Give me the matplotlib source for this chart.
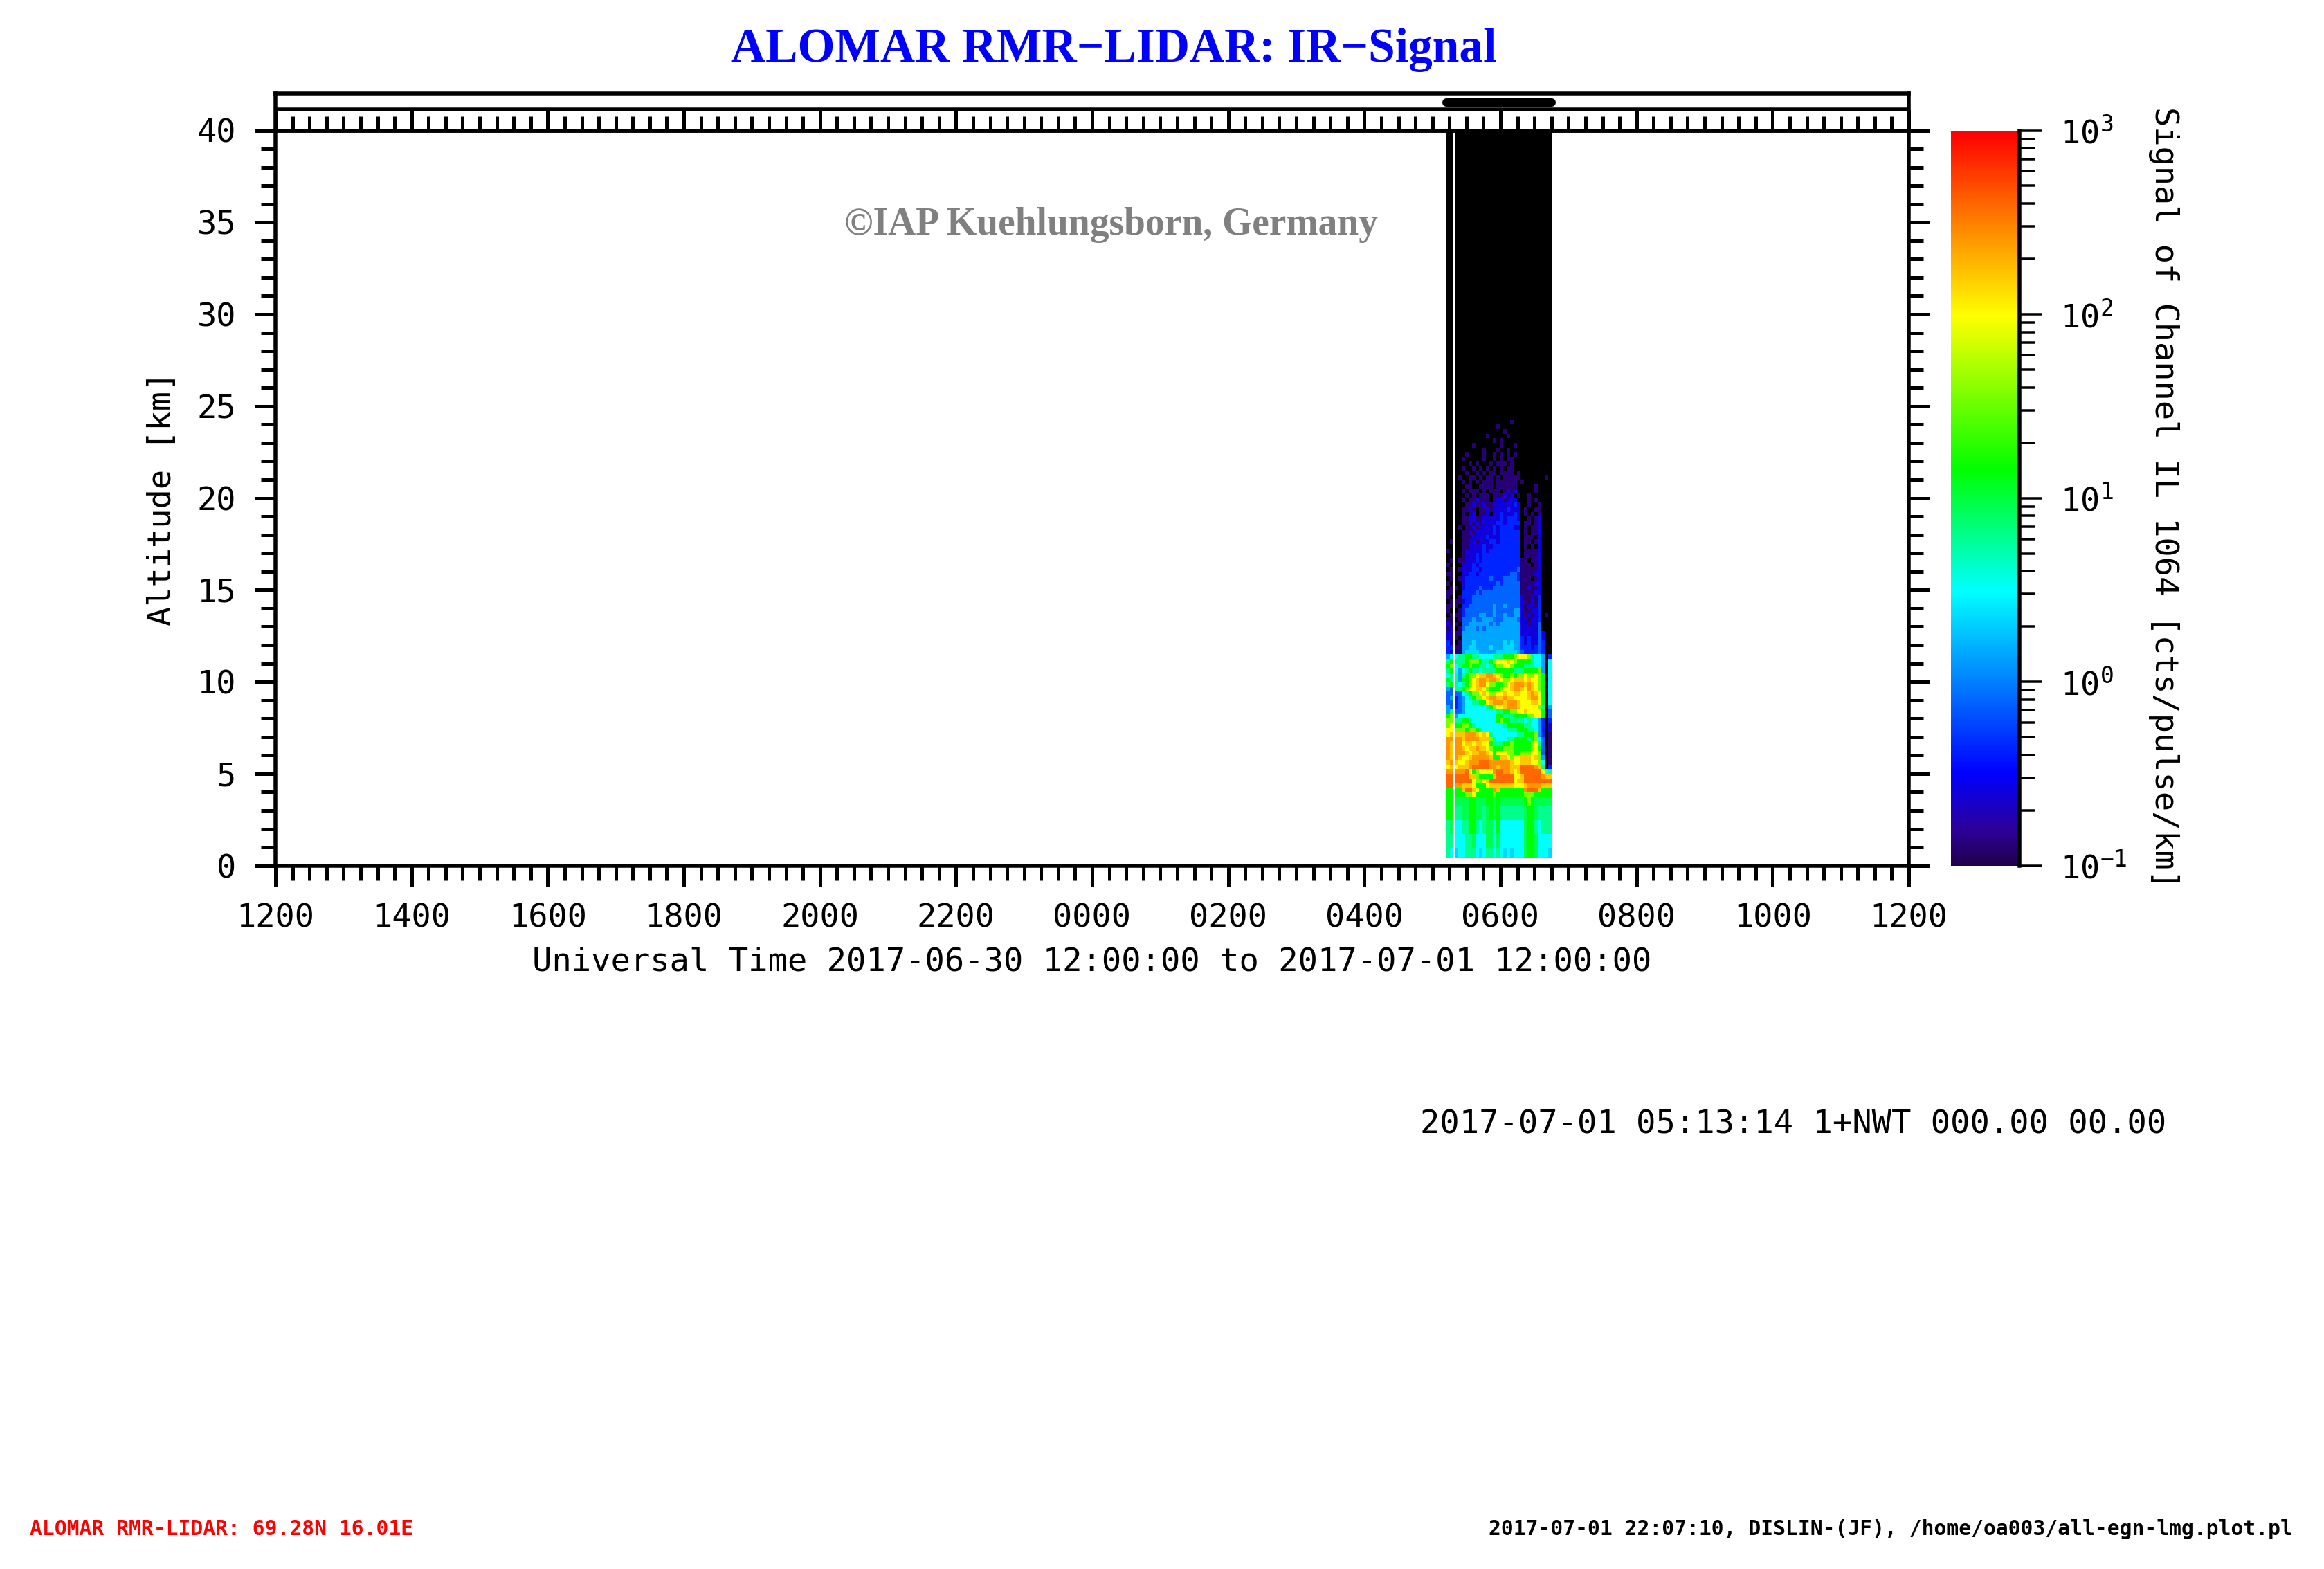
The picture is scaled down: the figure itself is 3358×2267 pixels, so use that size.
import numpy as np
import matplotlib
matplotlib.use("Agg")
import matplotlib.pyplot as plt
from matplotlib.colors import LinearSegmentedColormap, LogNorm
from matplotlib.ticker import FixedLocator, LogLocator, FuncFormatter, MultipleLocator

W, H = 3358, 2267
MONO = "DejaVu Sans Mono"

# hours after 2017-06-30 12:00
hour_ticks = list(range(0, 25, 2))
hour_labels = ["1200", "1400", "1600", "1800", "2000", "2200", "0000",
               "0200", "0400", "0600", "0800", "1000", "1200"]
scan_start = 17.207
scan_gap = [17.31, 17.33]
scan_end = 18.753

# one letter = one signal level, log10(cts/pulse/km)
level_codes = ".abcdepfgnhijklm"
level_log = [-2, -0.88, -0.6, -0.35, -0.1, 0.15, 0.35, 0.5, 0.8, 0.97, 1.16, 1.55, 2.0, 2.22, 2.42, 2.6]

# altitude [km] bands, top to bottom
alt_top = [40, 24.5]
alt_fine_top = 24.5
alt_fine_bottom = 3.75
alt_low = [3.75, 3.22, 2.47, 1.72, 0.97, 0.385]

# two columns before the gap + 28 after it; short rows are black on the right
rows_top = ["."]
rows_noise = [
    ".",
    "..................a",
    "..............a",
    "................a",
    "...........a.....a",
    ".............a.a",
    ".......a.......a...a",
    "..........a...a..a",
    ".....a....a..a.a.a.a",
    "....a.....a..a.a.aa",
    "......a.a...a.aaa.a",
    "....a..a.a.a.a.a.aa",
    ".....a..a.a.aa.aaaa.a",
    "...a..aa.a.aa.a.aaaaa.......a",
    "....a.a.a.aaa.aaaaaa.a",
    ".....aa..aaaa.aaaaaa.....a",
    "....a.aaa.a.aaa.abab.....a",
    ".....a.a.aaa.aaabab.a..a",
    "....a.aabaaa.abbabbb...a.a",
    ".....aabaabaabbbbbbcb..a..a",
    "....aaba.aababbbbcbbb.a..aa",
    "....a.ab.aab.bbcbbbcb.a.a.a",
    "....aabbaabbbbbcbcccb..a.ab",
    "....aabababbbbccbcccc.aa.ab",
    "...a.aababbbbcbccccbb.a.aab",
    "....aababbbbbcbcccccc.a.aab",
    "....aaabbbbcbbbcccccc.aaa.b",
    ".a..aabbabbbccbcccccc.aa.ab",
    "....aabbbbcbbcccccccc.a.a.b",
    "a...abbbbbcbccccccccc.aaaab",
    "....abbbcbccccccccccc.aaaab",
    ".a.aabbbcbcccccccccccaa.aab",
    "a...bbbcbccccccccccccaaa.ab",
    ".a.abbbccbccccccccccdaaaaab",
    "aa..bbccbcccccccccddcaaaabb",
    ".a.abcccccccdcccddddcaaa.ab",
    "a...bcccccccccdcdddddaaaabb",
    ".aa.bccccdcccddddddddaabaab",
    "aa..ccccdcdddddddddddaaaabb",
    "a..acccddddddddddddddbaabac",
    ".aaabccddddddddddddddbaabac",
    "aaa.ccdddddddeddeddddbabbac",
    "a..acddddddddedddddeebaabbc",
    ".aaacddddeeddeddeddeebababc.a",
    "aa.adddeddeeedddeeeedbbabbc",
    "baa.ddeeeeeededeeeeeebbabbd",
    "ab.adeeededeeeeeeeeeebbbbbd",
    "bbaaeeeeeeeeeeeeeeeeebbbbbdb",
    "bba.eeeeeeeeeeeeeeeeecbcbbdb",
    "cb.aeeepeeeeeeeepepeecbcbbdc",
    "ccaaeeppeeeepeeepppeecccbcdc",
    "cbaaeppppeeeeeppppppedccccdc",
]
rows_cloud = [
    "ef" + "fgghhggffffggghhhijjjigffe.c",
    "gh" + "ggghiiihgghijjjkjihhhhgffe.f",
    "hi" + "fghhihhggfghiijjihhhgggffe.f",
    "gh" + "fefghggfgggghhhhhggghhhhie.f",
    "fg" + "geghiijkkllkjihhihiijiijih.f",
    "hg" + "gehhijkllkllkjiijkkkjkjjih.f",
    "gh" + "gfghijklljiihhijklllklkjih.f",
    "ed" + "gghijjkkjihhhijjkllkjlkjih.f",
    "dd" + "ddfghiijkjiijjkjjkkjjklkjh.f",
    "de" + "cdefghiijkllkklkkjjjjklljh.f",
    "dd" + "cdeffgghhjklllklllkjjjkkjh.f",
    "ed" + "cdeffffffghijjklllkjjjjjig.e",
    "eg" + "ddefffffffffgghhiijjkjjjjh.d",
    "hi" + "efffffffffffhhggghhhhiijjh.d",
    "ii" + "gghhgfffffffhihhggggfgffec.c",
    "ij" + "hhiihgffffffffghhhhhggffec.b",
    "jj" + "iiihiihgfffffffggghhhggfec.b",
    "jk" + "kkklllkjkjgfffffffgghhhiec.a",
    "ll" + "llkllllkkkigfffgghhhhghifd.a",
    "lk" + "lljkkjkkjjhggghhihhhhhijgd.a",
    "lk" + "llkjkklkkjihhhiiihhhhhijhd.a",
    "lk" + "lllkjkkllkjhjjjiihhiiijjid.a",
    "lk" + "lkjjklllllkhhkkjijjkkkjkie.a",
    "kl" + "kjjklllmmmllllllkjjkkkjjif.a",
    "jk" + "jkkklmmmmmllklllkkkmmmmlkg.c",
    "ll" + "lllmjhijjjjlmmllkjkmmmmmmjfg",
    "mm" + "mmmmkkihhhhkmmmmmjjkmmmmmlkk",
    "mm" + "mmmmmjiijkmmmmmmmjkkmmmmmmmm",
    "mm" + "llkkkjhhhjkkkkkkkjjjkllllkkk",
    "hh" + "hhkmmkjhhhhlkhhhhhhhlmmmkhhh",
    "hh" + "hhhiijhhhhhihhhhhhhhiiihhhhh",
]
rows_low = [
    "hh" + "nnnnhhnnnhhnhnnnnnnnhihnnnnn",
    "hh" + "ggnnhhnngnhnhgggggggnhhngggg",
    "gn" + "ffgghhgfgnnfhfffffffnhhgfggg",
    "gg" + "fffggnfffnnfnfffffffnhhnffff",
    "gf" + "pffgggfpfggfgfpfpfffnhhnfffp",
]

# colour bar
cbar_ticks = [0.1, 1, 10, 100, 1000]
cbar_stops = [0.0, 0.05, 0.127, 0.375, 0.541, 0.75, 0.877, 1.0]
cbar_colors = ["#200048", "#2c0098", "#0000ff", "#00ffff", "#00ff00", "#ffff00", "#ff8000", "#ff0000"]


def px_rect(left, top, right, bottom):
    return [left / W, 1 - bottom / H, (right - left) / W, (bottom - top) / H]


def ptx(n):
    # pixels to points at dpi 100
    return n * 0.72


def put(x, y, s, **kw):
    kw.setdefault("family", MONO)
    kw.setdefault("va", "center")
    return fig.text(x / W, 1 - y / H, s, **kw)


rows = rows_top + rows_noise + rows_cloud + rows_low
lookup = dict(zip(level_codes, level_log))
grid = np.array([[lookup[c] for c in r.ljust(30, ".")] for r in rows])
signal = 10.0 ** grid

alt_edges = np.concatenate([
    alt_top[:-1],
    np.arange(alt_fine_top, alt_fine_bottom - 0.01, -0.25),
    alt_low[1:],
])

cmap = LinearSegmentedColormap.from_list("lidar", list(zip(cbar_stops, cbar_colors)), N=512)
cmap.set_under("black")
norm = LogNorm(vmin=0.1, vmax=1000)

fig = plt.figure(figsize=(W / 100, H / 100), dpi=100)
ax = fig.add_axes(px_rect(398, 188.5, 2758, 1250.7))

t_left = np.linspace(scan_start, scan_gap[0], 3)
t_right = np.linspace(scan_gap[1], scan_end, 29)
mesh = ax.pcolormesh(t_left, alt_edges, signal[:, :2], cmap=cmap, norm=norm, antialiased=False, linewidth=0)
ax.pcolormesh(t_right, alt_edges, signal[:, 2:], cmap=cmap, norm=norm, antialiased=False, linewidth=0)

ax.set_xlim(0, 24)
ax.set_ylim(0, 40)
for s in ax.spines.values():
    s.set_linewidth(ptx(5.5))
ax.xaxis.set_major_locator(FixedLocator(hour_ticks))
ax.xaxis.set_minor_locator(MultipleLocator(0.25))
ax.set_xticklabels(hour_labels)
ax.yaxis.set_major_locator(MultipleLocator(5))
ax.yaxis.set_minor_locator(MultipleLocator(1))
ax.tick_params(which="major", direction="out", length=ptx(30), width=ptx(5), top=True, right=True, labelsize=33.8)
ax.tick_params(which="minor", direction="out", length=ptx(21), width=ptx(5), top=True, right=True)
ax.tick_params(axis="x", which="major", pad=ptx(24))
ax.tick_params(axis="y", which="major", pad=ptx(27))
for t in ax.get_xticklabels() + ax.get_yticklabels():
    t.set_family(MONO)

# strip above the plot with the measurement period
strip = fig.add_axes(px_rect(398, 135, 2758, 188.5))
strip.set_xlim(0, 24)
strip.set_ylim(0, 1)
strip.set_xticks([])
strip.set_yticks([])
strip.patch.set_alpha(0)
for s in strip.spines.values():
    s.set_linewidth(ptx(5.5))
strip.axhline(1 - 23 / 53.5, color="black", lw=ptx(5.5))
strip.plot([scan_start, scan_end], [1 - 12.5 / 53.5] * 2, color="black", lw=ptx(12), solid_capstyle="round")

# colour bar
cax = fig.add_axes(px_rect(2819, 188.5, 2918, 1250.7))
cbar = fig.colorbar(mesh, cax=cax)
cbar.outline.set_visible(False)
cbar.solids.set_edgecolor("face")
cax.spines["right"].set_visible(True)
cax.spines["right"].set_linewidth(ptx(5.5))
cax.yaxis.set_major_locator(FixedLocator(cbar_ticks))
cax.yaxis.set_minor_locator(LogLocator(base=10, subs=range(2, 10), numticks=10))
cax.yaxis.set_minor_formatter(FuncFormatter(lambda v, p: ""))
cax.yaxis.set_major_formatter(FuncFormatter(lambda v, p: r"$\mathregular{10^{%d}}$" % round(np.log10(v))))
cax.tick_params(which="major", length=ptx(32), width=ptx(3.5), labelsize=33.8, pad=ptx(27))
cax.tick_params(which="minor", length=ptx(22), width=ptx(3.5))
for t in cax.get_yticklabels():
    t.set_family(MONO)

put(235, 720, "Altitude [km]", rotation=90, ha="center", fontsize=33.8)
put(1578, 1390, "Universal Time 2017-06-30 12:00:00 to 2017-07-01 12:00:00", ha="center", fontsize=33.9)
put(3127, 719, "Signal of Channel IL 1064 [cts/pulse/km]", rotation=270, ha="center", fontsize=33.8)
put(2052, 1625, "2017-07-01 05:13:14 1+NWT 000.00 00.00", ha="left", fontsize=33.9)

put(1609, 72, "ALOMAR RMR\u2212LIDAR: IR\u2212Signal", family="Liberation Serif", weight="bold", color="#0000ff",
    ha="center", fontsize=50)
put(1606, 325, "\u00a9IAP Kuehlungsborn, Germany", family="Liberation Serif", weight="bold", color="#808080",
    ha="center", fontsize=40)

put(43, 2210, "ALOMAR RMR-LIDAR: 69.28N 16.01E", color="#ff0000", weight="bold", ha="left", fontsize=21.3)
put(3313, 2210, "2017-07-01 22:07:10, DISLIN-(JF), /home/oa003/all-egn-lmg.plot.pl", weight="bold", ha="right", fontsize=21.3)

fig.savefig("out.png", dpi=100)
